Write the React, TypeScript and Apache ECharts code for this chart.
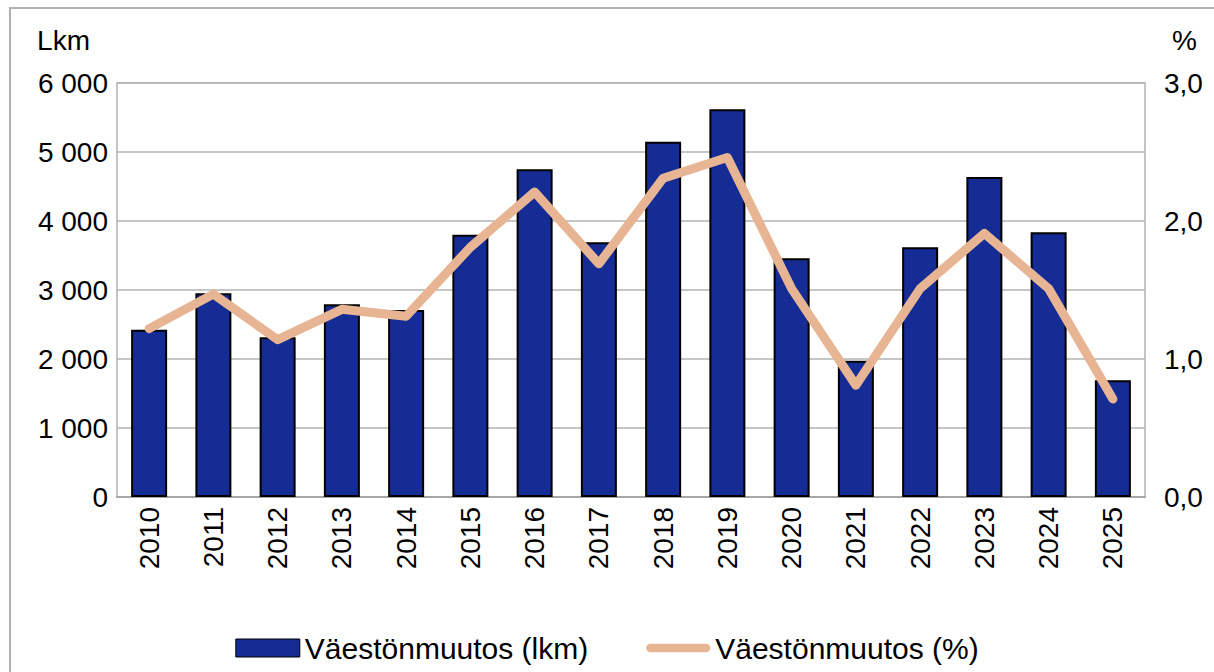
import React, { useEffect, useRef } from "react";
import * as echarts from "echarts";

const years = ["2010","2011","2012","2013","2014","2015","2016","2017","2018","2019","2020","2021","2022","2023","2024","2025"];
const changeCount = [2425, 2952, 2314, 2793, 2710, 3801, 4749, 3691, 5149, 5619, 3459, 1975, 3619, 4638, 3836, 1691];
const changePct = [1.22, 1.47, 1.14, 1.36, 1.31, 1.81, 2.21, 1.69, 2.31, 2.46, 1.51, 0.81, 1.51, 1.91, 1.51, 0.71];
const seriesNames = ["Väestönmuutos (lkm)", "Väestönmuutos (%)"];
const leftAxisName = "Lkm";
const rightAxisName = "%";

const FONT = "'Liberation Sans', Arial, sans-serif";
const LINE_COLOR = "#E8B594";

export default function App() {
  const ref = useRef<HTMLDivElement>(null);
  useEffect(() => {
    document.body.style.margin = "0";
    const chart = echarts.init(ref.current!, undefined, { renderer: "svg" });
    const fmtThousands = (v: number) => String(v).replace(/\B(?=(\d{3})+(?!\d))/g, " ");
    chart.setOption({
      animation: false,
      backgroundColor: "#ffffff",
      textStyle: { fontFamily: FONT },
      graphic: [
        {
          type: "rect",
          silent: true,
          z: -10,
          shape: { x: 10, y: 8, width: 1400, height: 900 },
          style: { fill: "none", stroke: "#b0b0b0", lineWidth: 2 },
        },
      ],
      grid: {
        left: 117,
        right: 69,
        top: 83,
        bottom: 175,
        show: true,
        borderColor: "#b3b3b3",
        borderWidth: 1.5,
        backgroundColor: "transparent",
      },
      legend: {
        left: "center",
        top: 628,
        itemWidth: 64,
        itemHeight: 18,
        itemGap: 58,
        textStyle: { fontSize: 30, color: "#000", fontFamily: FONT },
        data: [
          { name: seriesNames[0], icon: "rect", itemStyle: { borderColor: "#000", borderWidth: 1 } },
          {
            name: seriesNames[1],
            icon: "path://M4.5,0 L63.5,0 A4.5,4.5 0 0 1 63.5,9 L4.5,9 A4.5,4.5 0 0 1 4.5,0 Z",
            itemStyle: { color: LINE_COLOR, borderWidth: 0 },
          },
        ],
      },
      xAxis: {
        type: "category",
        data: years,
        axisLine: { show: true, lineStyle: { color: "#a6a6a6", width: 2 } },
        axisTick: { show: false },
        axisLabel: { rotate: 90, margin: 10, fontSize: 28, color: "#000", fontFamily: FONT },
      },
      yAxis: [
        {
          type: "value",
          min: 0,
          max: 6000,
          interval: 1000,
          name: leftAxisName,
          nameLocation: "end",
          nameGap: 43,
          nameTextStyle: { fontSize: 28, color: "#000", align: "right", verticalAlign: "middle", padding: [0, 27, 0, 0], fontFamily: FONT },
          axisLine: { show: false },
          axisTick: { show: false },
          splitLine: { show: true, lineStyle: { color: "#b3b3b3", width: 1.5 } },
          axisLabel: { fontSize: 28, color: "#000", margin: 9, fontFamily: FONT, formatter: (v: number) => fmtThousands(v) },
        },
        {
          type: "value",
          min: 0,
          max: 3,
          interval: 1,
          name: rightAxisName,
          nameLocation: "end",
          nameGap: 43,
          nameTextStyle: { fontSize: 28, color: "#000", align: "left", verticalAlign: "middle", padding: [0, 0, 0, 27], fontFamily: FONT },
          axisLine: { show: false },
          axisTick: { show: false },
          splitLine: { show: false },
          axisLabel: { fontSize: 28, color: "#000", margin: 19, fontFamily: FONT, formatter: (v: number) => v.toFixed(1).replace(".", ",") },
        },
      ],
      series: [
        {
          name: seriesNames[0],
          type: "bar",
          data: changeCount,
          barWidth: 36,
          itemStyle: { color: "#152C94", borderColor: "#000", borderWidth: 2 },
        },
        {
          name: seriesNames[1],
          type: "line",
          yAxisIndex: 1,
          data: changePct,
          symbol: "none",
          showSymbol: false,
          lineStyle: { color: LINE_COLOR, width: 9, cap: "round", join: "round" },
          itemStyle: { color: LINE_COLOR },
        },
      ],
    });
    return () => chart.dispose();
  }, []);
  return <div ref={ref} style={{ width: 1214, height: 672 }} />;
}
